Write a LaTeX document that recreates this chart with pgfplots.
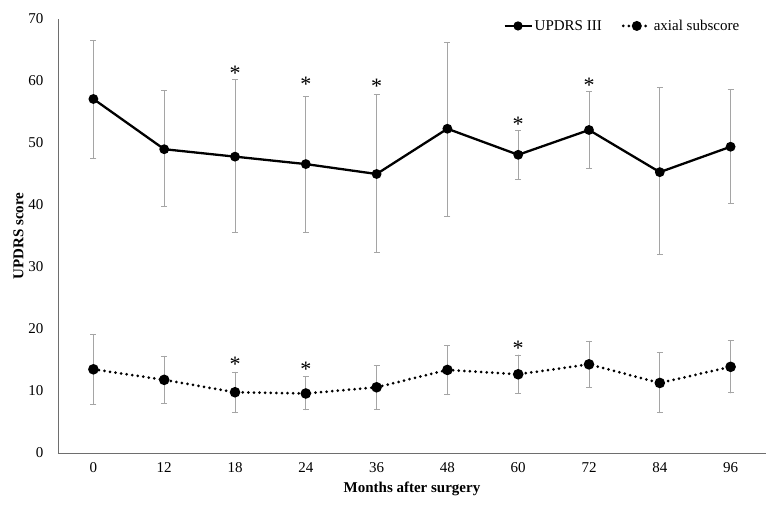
\documentclass[border=0pt]{standalone}
\usepackage{fontspec}
\setmainfont{Liberation Serif}
\usepackage{pgfplots}
\usepackage{pgfplotstable}
\pgfplotsset{compat=1.18}
\definecolor{errgray}{RGB}{165,165,165}
\definecolor{axgray}{RGB}{110,110,110}
\pgfplotstableread{
x y ep em
0 57.1 9.5 9.6
1 49.0 9.5 9.2
2 47.8 12.5 12.3
3 46.6 10.9 11.0
4 45.0 12.8 12.6
5 52.3 13.9 14.1
6 48.1 4.0 4.0
7 52.1 6.2 6.2
8 45.3 13.6 13.2
9 49.4 9.3 9.1
}\updrs
\pgfplotstableread{
x y ep em
0 13.5 5.6 5.6
1 11.8 3.8 3.8
2 9.8 3.2 3.3
3 9.6 2.7 2.6
4 10.6 3.5 3.5
5 13.4 3.9 4.0
6 12.7 3.1 3.1
7 14.3 3.7 3.7
8 11.3 4.9 4.8
9 13.9 4.2 4.2
}\axial
\begin{document}
\begin{tikzpicture}
\begin{axis}[
  at={(0,0)}, anchor=south west,
  scale only axis, width=708pt, height=434pt,
  xmin=-0.5, xmax=9.5, ymin=0, ymax=70,
  axis lines*=left, axis line style={-, axgray, line width=0.8pt},
  xtick={0,...,9}, xticklabels={0,12,18,24,36,48,60,72,84,96},
  ytick={0,10,...,70},
  major tick length=0pt,
  /pgf/number format/assume math mode=true,
  tick label style={font=\fontsize{15}{17}\selectfont},
  xticklabel style={yshift=-6pt},
  yticklabel style={xshift=-11pt},
  xlabel={\textbf{Months after surgery}},
  ylabel={\textbf{UPDRS score}},
  label style={font=\fontsize{15}{17}\selectfont},
  xlabel style={yshift=-2pt},
  ylabel style={yshift=-2pt},
  legend style={at={(0.797,0.984)}, anchor=center, draw=none, fill=none,
    font=\fontsize{15}{17}\selectfont, /tikz/every even column/.append style={column sep=18pt}},
  legend columns=2,
  legend image code/.code={\draw[#1] (0cm,0cm) -- (0.95cm,0cm); \fill[solid] (0.475cm,0cm) circle (3.4pt);},
  error bars/error bar style={errgray, line width=0.9pt, solid},
  error bars/error mark options={rotate=90, errgray, mark size=3pt, line width=0.9pt},
]
\addplot[black, line width=2.3pt, mark=*, mark size=3.7pt, mark options={solid},
  error bars/.cd, y dir=both, y explicit]
  table[x=x, y=y, y error plus=ep, y error minus=em]{\updrs};
\addlegendentry{UPDRS III}
\addplot[black, line width=3pt, line cap=round, dash pattern=on 0pt off 5.6pt, mark=*, mark size=3.7pt, mark options={solid},
  error bars/.cd, y dir=both, y explicit]
  table[x=x, y=y, y error plus=ep, y error minus=em]{\axial};
\addlegendentry{axial subscore}
\addplot[draw=none, mark=none, nodes near coords={*}, nodes near coords align={center},
  every node near coord/.append style={font=\fontsize{22}{22}\selectfont, yshift=-10pt}, forget plot]
  coordinates {(2,62.9) (3,61.1) (4,60.8) (6,54.6) (7,61.0) (2,16.0) (3,15.1) (6,18.5)};
\end{axis}
\path[use as bounding box] (-58pt,-54pt) rectangle (720pt,453pt);
\end{tikzpicture}
\end{document}
